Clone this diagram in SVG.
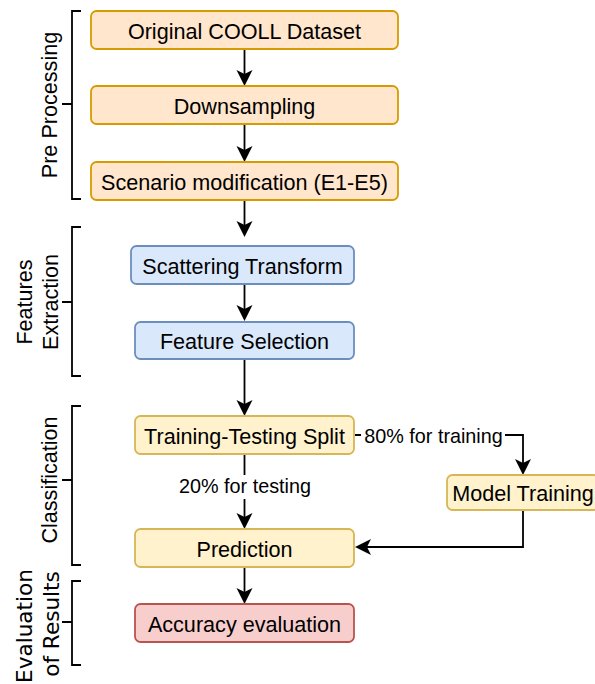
<svg xmlns="http://www.w3.org/2000/svg" width="595" height="684" viewBox="0 0 595 684">
<defs>
<marker id="ah" markerUnits="userSpaceOnUse" markerWidth="18" markerHeight="18" viewBox="0 0 18 18" refX="5" refY="9" orient="auto">
<path d="M17,9 L1,1 L5,9 L1,17 Z" fill="#000"/>
</marker>
</defs>
<style>
.n{stroke-width:1.8}
.o{fill:#ffe6cc;stroke:#d79b00}
.b{fill:#dae8fc;stroke:#6c8ebf}
.y{fill:#fff2cc;stroke:#d6b656}
.r{fill:#f8cecc;stroke:#b85450}
.t{font-family:"Liberation Sans",Arial,sans-serif;font-size:21.6px;fill:#000;text-anchor:middle}
.el{font-family:"Liberation Sans",Arial,sans-serif;font-size:19.8px;fill:#000;text-anchor:middle}
.c{fill:none;stroke:#000;stroke-width:1.8}
.br{fill:none;stroke:#000;stroke-width:1.8}
</style>
<rect width="595" height="684" fill="#fff"/>

<g id="brackets">
<g id="pre-processing">
<path class="br" d="M81,11 H72 V199 H81 M72,104 H62"/>
<text class="t" transform="translate(57,105) rotate(-90)">Pre Processing</text>
</g>
<g id="features-extraction">
<path class="br" d="M81,227 H72 V376 H81 M72,302 H62"/>
<text class="t" transform="translate(32,302) rotate(-90)">Features</text>
<text class="t" transform="translate(58,302) rotate(-90)">Extraction</text>
</g>
<g id="classification">
<path class="br" d="M81,406 H72 V565 H81 M72,480 H62"/>
<text class="t" transform="translate(57,480) rotate(-90)">Classification</text>
</g>
<g id="evaluation">
<path class="br" d="M81,581 H72 V665 H81 M72,622 H62"/>
<text class="t" style="font-family:'DejaVu Sans',sans-serif" transform="translate(32,626) rotate(-90)">Evaluation</text>
<text class="t" style="font-family:'DejaVu Sans',sans-serif" transform="translate(59,624) rotate(-90)">of Results</text>
</g>
</g>

<g id="connectors">
<path class="c" d="M244.5,49 V74" marker-end="url(#ah)"/>
<path class="c" d="M244.5,124 V150" marker-end="url(#ah)"/>
<path class="c" d="M244.5,200 V225" marker-end="url(#ah)"/>
<path class="c" d="M244.5,284 V309" marker-end="url(#ah)"/>
<path class="c" d="M244.5,359 V404" marker-end="url(#ah)"/>
<path class="c" d="M244.5,454 V517" marker-end="url(#ah)"/>
<rect x="176" y="475" width="138" height="24" fill="#fff"/>
<text class="el" x="245" y="493">20% for testing</text>
<path class="c" d="M355,435 H523 V463" marker-end="url(#ah)"/>
<rect x="361" y="424" width="144" height="23" fill="#fff"/>
<text class="el" x="433.5" y="442.5">80% for training</text>
<path class="c" d="M523,510 V547 H367" marker-end="url(#ah)"/>
<path class="c" d="M244.5,567 V592" marker-end="url(#ah)"/>
</g>

<g id="original-cooll-dataset">
<rect class="n o" x="91" y="11" width="307" height="38" rx="5.5"/>
<text class="t" x="244.5" y="38.5">Original COOLL Dataset</text>
</g>
<g id="downsampling">
<rect class="n o" x="91" y="86" width="307" height="38" rx="5.5"/>
<text class="t" x="244.5" y="113.5">Downsampling</text>
</g>
<g id="scenario-modification">
<rect class="n o" x="91" y="162" width="307" height="38" rx="5.5"/>
<text class="t" x="244.5" y="189.5">Scenario modification (E1-E5)</text>
</g>
<g id="scattering-transform">
<rect class="n b" x="131" y="246" width="223" height="38" rx="5.5"/>
<text class="t" x="242.5" y="273.5">Scattering Transform</text>
</g>
<g id="feature-selection">
<rect class="n b" x="135" y="322" width="219" height="37" rx="5.5"/>
<text class="t" x="244.5" y="349">Feature Selection</text>
</g>
<g id="training-testing-split">
<rect class="n y" x="135" y="416" width="219" height="38" rx="5.5"/>
<text class="t" x="244.5" y="443.5">Training-Testing Split</text>
</g>
<g id="model-training">
<rect class="n y" x="447" y="475" width="152" height="35" rx="5.5"/>
<text class="t" x="523" y="500.5">Model Training</text>
</g>
<g id="prediction">
<rect class="n y" x="135" y="529" width="219" height="38" rx="5.5"/>
<text class="t" x="244.5" y="556.5">Prediction</text>
</g>
<g id="accuracy-evaluation">
<rect class="n r" x="135" y="604" width="219" height="38" rx="5.5"/>
<text class="t" x="244.5" y="631.5">Accuracy evaluation</text>
</g>
</svg>
